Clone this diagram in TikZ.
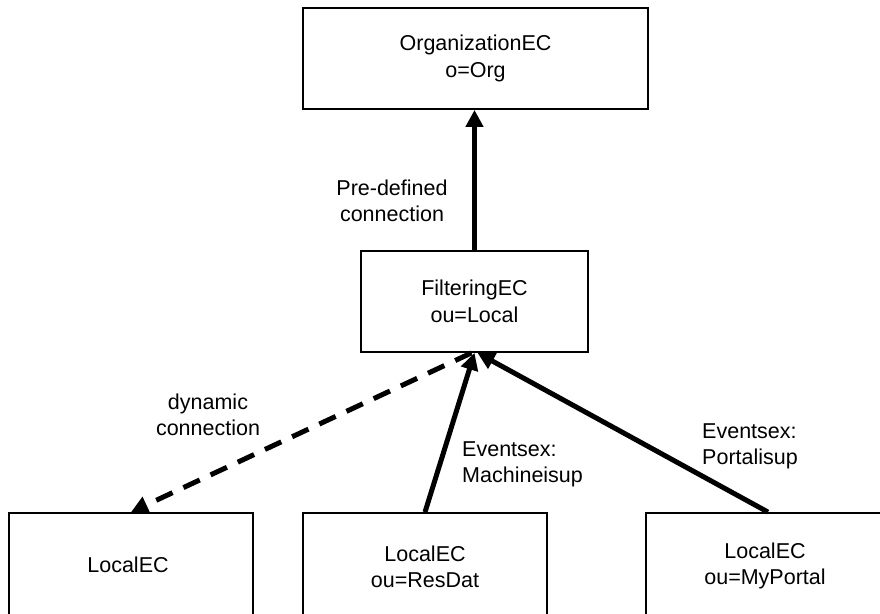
\documentclass[tikz,border=0pt]{standalone}
\usepackage{fontspec}
\setmainfont{Liberation Sans}
\usetikzlibrary{arrows.meta}
\begin{document}
\begin{tikzpicture}[x=1pt,y=-1pt,
  box/.style={draw=black, line width=1.8pt, rectangle, inner sep=0pt, align=center,
    font=\fontsize{21.5}{27}\selectfont},
  txt/.style={inner sep=0pt, font=\fontsize{21.5}{26}\selectfont},
  conn/.style={line width=5pt, -{Triangle[length=17pt,width=17pt]}},
  dashconn/.style={conn, dash pattern=on 18pt off 12pt}
]
\clip (0,0) rectangle (880,613);
\fill[white] (0,0) rectangle (880,613);
% boxes
\node[box, minimum width=345pt, minimum height=101pt] (org) at (475.5,58.5) {OrganizationEC\\o=Org};
\node[box, minimum width=227pt, minimum height=101pt] (filt) at (474.5,301.5) {FilteringEC\\ou=Local};
\node[box, minimum width=244pt, minimum height=127pt] (lb) at (131,576.5) {};
\node[box, minimum width=244pt, minimum height=127pt] (mb) at (425,576.5) {};
\node[box, minimum width=244pt, minimum height=127pt] (rb) at (768,576.5) {};
% box texts
\node[txt] (lbt) at (128,565) {LocalEC};
\node[txt, align=center] (mbt) at (425,567) {LocalEC\\ou=ResDat};
\node[txt, align=center] (rbt) at (765,566) {LocalEC\\ou=MyPortal};
% connectors
\draw[conn] (filt.north) -- (filt.north |- org.south);
\draw[dashconn] ([xshift=-3pt]filt.south) -- (lb.north);
\draw[conn] (mb.north) -- (filt.south);
\draw[conn] (rb.north) -- ([xshift=3pt]filt.south);
% labels
\node[txt, align=center] (l1) at (392,201) {Pre-defined\\connection};
\node[txt, align=center] (l2) at (208,415) {dynamic\\connection};
\node[txt, align=left, anchor=west] (l3) at (462,464) {Eventsex:\\Machineisup};
\node[txt, align=left, anchor=west] (l4) at (702,446) {Eventsex:\\Portalisup};
\end{tikzpicture}
\end{document}
